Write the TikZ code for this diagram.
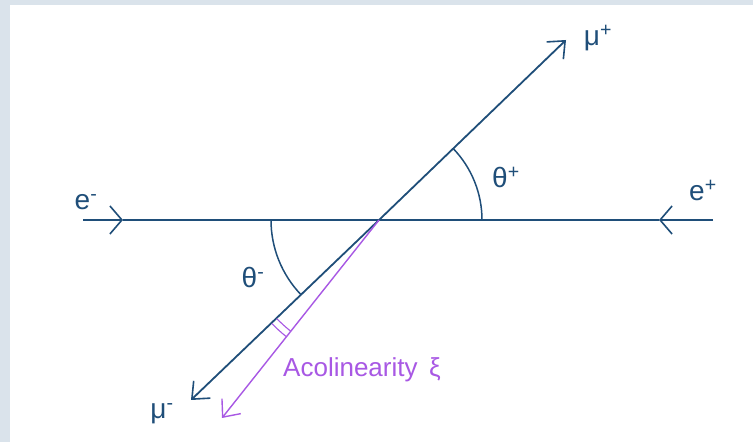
\documentclass[tikz,border=0pt]{standalone}
\usepackage{fontspec}
\setmainfont{Liberation Sans}
\usepackage{tikz}
\usetikzlibrary{arrows.meta}
\definecolor{beamBlue}{RGB}{31,78,121}
\definecolor{acolPurple}{RGB}{168,88,228}
\definecolor{frameGrey}{RGB}{218,227,235}

\begin{document}
\begin{tikzpicture}[x=1pt, y=1pt,
    beam/.style={draw=beamBlue, line width=1.8pt},
    headarrow/.style={-{Straight Barb[length=12pt, width=28pt, line width=1.6pt]}},
    lbl/.style={text=beamBlue, font=\fontsize{28}{30}\selectfont, inner sep=0pt},
    acolline/.style={draw=acolPurple, line width=1.4pt}
]
\useasboundingbox (0,0) rectangle (753,442);
\fill[frameGrey] (0,0) rectangle (753,442);
\fill[white] (10,0) rectangle (753,437);
\coordinate (eminus) at (83,222);
\coordinate (eminhead) at (123,222);
\coordinate (eplus) at (713,222);
\coordinate (eplushead) at (659,222);
\coordinate (vtx) at (379,222);
\coordinate (muplus) at (566,402);
\coordinate (muminus) at (191,42);
\coordinate (acol) at (222,24);
\draw[beam, headarrow] (eminus) -- (eminhead);
\draw[beam] (eminhead) -- (eplushead);
\draw[beam, headarrow] (eplus) -- (eplushead);
\draw[beam, -{Straight Barb[length=14pt, width=24pt, line width=1.6pt]}] (vtx) -- (muplus);
\draw[beam, -{Straight Barb[length=14pt, width=24pt, line width=1.6pt]}] (vtx) -- (muminus);
\draw[acolline, -{Straight Barb[length=14pt, width=24pt, line width=1.4pt]}] (vtx) -- (acol);
\draw[beam, line width=1.5pt] (vtx) ++(0:103) arc[start angle=0, end angle=44, radius=103];
\draw[beam, line width=1.5pt] (vtx) ++(180:108) arc[start angle=180, end angle=224, radius=108];
\draw[acolline, line width=1.1pt] (vtx) ++(224:142) arc[start angle=224, end angle=231.6, radius=142];
\draw[acolline, line width=1.1pt] (vtx) ++(224:149) arc[start angle=224, end angle=231.6, radius=149];
\node[lbl] (eminlbl) at (86,240) {e\textsuperscript{-}};
\node[lbl] (epluslbl) at (703,252) {e\textsuperscript{+}};
\node[lbl] (mupluslbl) at (598,404) {μ\textsuperscript{+}};
\node[lbl] (muminlbl) at (162,28) {μ\textsuperscript{-}};
\node[lbl] (thplus) at (506,265) {θ\textsuperscript{+}};
\node[lbl] (thminus) at (253,164) {θ\textsuperscript{-}};
\node[text=acolPurple, font=\fontsize{26}{28}\selectfont, inner sep=0pt, anchor=base west] (acollbl) at (283,65) {Acolinearity\, ξ};
\end{tikzpicture}
\end{document}
